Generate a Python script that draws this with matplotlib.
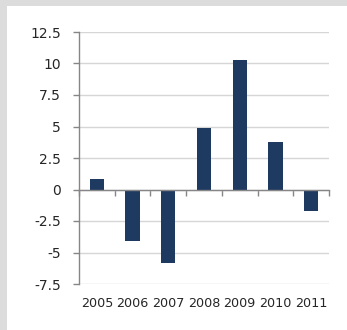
import matplotlib
matplotlib.use("Agg")
import matplotlib.pyplot as plt
import matplotlib.transforms as mtransforms
import numpy as np

years = ["2005", "2006", "2007", "2008", "2009", "2010", "2011"]
values = [0.8, -4.1, -5.8, 4.9, 10.3, 3.8, -1.7]
y_ticks = [-7.5, -5, -2.5, 0, 2.5, 5, 7.5, 10, 12.5]
y_labels = ["-7.5", "-5", "-2.5", "0", "2.5", "5", "7.5", "10", "12.5"]

bar_color = "#1f3a60"
axis_color = "#868686"
grid_color = "#d6d6d6"
text_color = "#262626"

fig = plt.figure(figsize=(3.47, 3.30), dpi=100)
fig.patch.set_facecolor("#dcdcdc")

# white card behind the chart
card = plt.Rectangle((6.5 / 347, 0), 1, 1 - 6 / 330, transform=fig.transFigure,
                     facecolor="white", edgecolor="none", zorder=-10)
fig.patches.append(card)

ax = fig.add_axes([79 / 347, 46 / 330, 250 / 347, 252 / 330])
ax.set_facecolor("none")
ax.set_zorder(1)

x = np.arange(len(years))
ax.bar(x, values, width=0.4, color=bar_color, zorder=3)

ax.set_xlim(-0.5, len(years) - 0.5)
ax.set_ylim(y_ticks[0], y_ticks[-1])
ax.set_yticks(y_ticks)
ax.set_yticklabels(y_labels)
ax.yaxis.grid(True, color=grid_color, linewidth=1.0, zorder=0)
ax.set_axisbelow(True)

for side in ("top", "right"):
    ax.spines[side].set_visible(False)
ax.spines["left"].set_color(axis_color)
ax.spines["left"].set_linewidth(1.0)

# category axis runs along zero with ticks at category boundaries
ax.spines["bottom"].set_position(("data", 0))
ax.spines["bottom"].set_color(axis_color)
ax.spines["bottom"].set_linewidth(1.0)
ax.spines["bottom"].set_zorder(4)
ax.set_xticks(np.arange(len(years) + 1) - 0.5)
ax.set_xticklabels([])
ax.tick_params(axis="x", direction="out", length=4, color=axis_color, width=1.0)
ax.tick_params(axis="y", direction="out", length=4, color=axis_color, width=1.0,
               labelsize=10, labelcolor=text_color, pad=9)

# year labels sit under the plot area
trans = mtransforms.blended_transform_factory(ax.transData, ax.transAxes)
for xi, label in zip(x, years):
    ax.text(xi, -0.078, label, transform=trans, ha="center", va="center",
            fontsize=9.2, color=text_color)

fig.savefig("out.png", dpi=100, facecolor=fig.get_facecolor())
